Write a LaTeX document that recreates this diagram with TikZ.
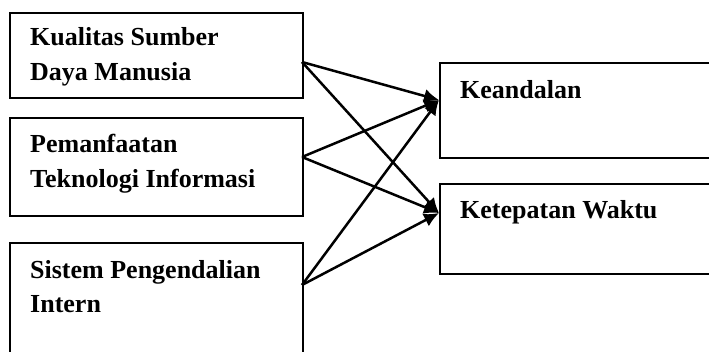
\documentclass[tikz,border=0pt]{standalone}
\usepackage{fontspec}
\setmainfont{Liberation Serif}
\usetikzlibrary{arrows.meta}
\begin{document}
\begin{tikzpicture}[x=1pt,y=-1pt,
  box/.style={draw,line width=1.9pt,rectangle,inner sep=0pt},
  lbl/.style={anchor=base west,inner sep=0pt,font=\fontsize{26}{35}\selectfont\bfseries},
  arr/.style={line width=2.5pt,-{Latex[length=15pt,width=14pt]}}]
\useasboundingbox (0,0) rectangle (709,351);
\clip (0,0) rectangle (709,351);
\fill[white] (0,0) rectangle (709,351);
% left boxes
\node[box,minimum width=293pt,minimum height=85pt,anchor=north west] (b1) at (9,12) {};
\node[box,minimum width=293pt,minimum height=98pt,anchor=north west] (b2) at (9,117) {};
\node[box,minimum width=293pt,minimum height=130pt,anchor=north west] (b3) at (9,242) {};
% right boxes
\node[box,minimum width=300pt,minimum height=95pt,anchor=north west] (k) at (439,62) {};
\node[box,minimum width=300pt,minimum height=90pt,anchor=north west] (w) at (439,183) {};
% labels
\node[lbl] (t1a) at (30,45) {Kualitas Sumber};
\node[lbl] (t1b) at (30,80) {Daya Manusia};
\node[lbl] (t2a) at (30,152) {Pemanfaatan};
\node[lbl] (t2b) at (30,187) {Teknologi Informasi};
\node[lbl] (t3a) at (30,278) {Sistem Pengendalian};
\node[lbl] (t3b) at (30,312) {Intern};
\node[lbl] (tk) at (460,98) {Keandalan};
\node[lbl] (tw) at (460,218) {Ketepatan Waktu};
% connector endpoints
\coordinate (s1) at (302,62);
\coordinate (s2) at (302,157);
\coordinate (s3) at (302,285);
\coordinate (ek) at (439,100);
\coordinate (ew) at (439,213);
\draw[arr] (s1) -- (ek);
\draw[arr] (s1) -- (ew);
\draw[arr] (s2) -- (ek);
\draw[arr] (s2) -- (ew);
\draw[arr] (s3) -- (ek);
\draw[arr] (s3) -- (ew);
\end{tikzpicture}
\end{document}
